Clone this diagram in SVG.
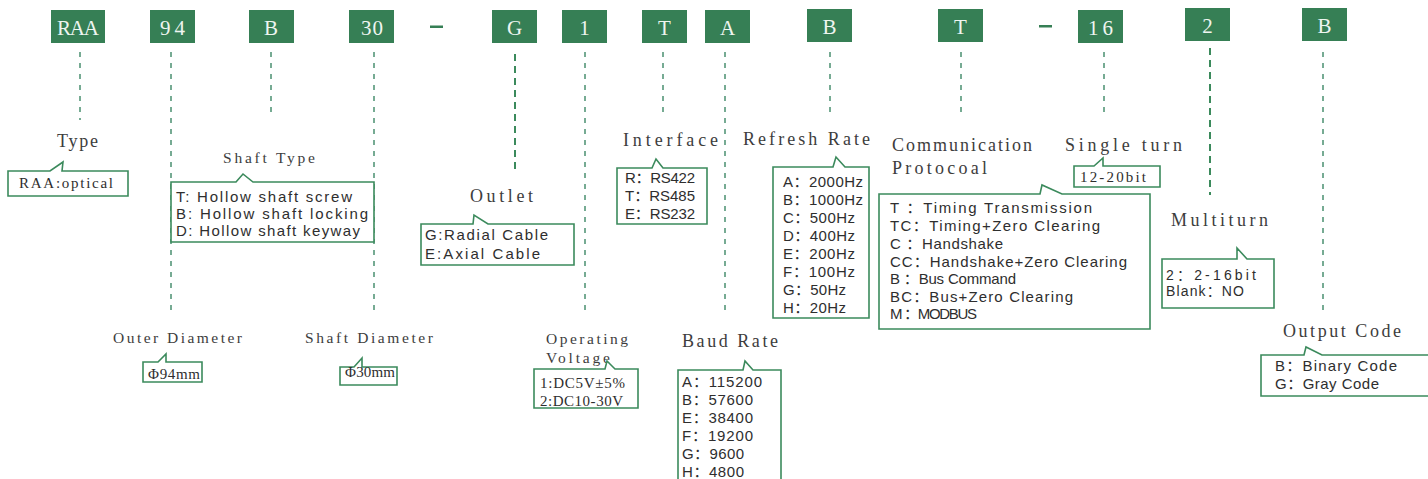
<svg xmlns="http://www.w3.org/2000/svg" width="1428" height="479" viewBox="0 0 1428 479">
<style>
.code{fill:#367f55}
.ct{font-family:"Liberation Serif",serif;font-size:21px;fill:#eef5f0;text-anchor:middle}
.lbl{font-family:"Liberation Serif",serif;font-size:18px;fill:#3d3d3d}
.lbs{font-family:"Liberation Serif",serif;font-size:15.5px;fill:#3d3d3d}
.bx{fill:#fff;stroke:#3b8a5c;stroke-width:1.6}
.st{font-family:"Liberation Sans","Noto Sans CJK SC",sans-serif;font-size:15px;fill:#2e2e2e}
.ss{font-family:"Liberation Serif","Noto Sans CJK SC",serif;font-size:15px;fill:#2e2e2e}
.dl{stroke:#4a9070;stroke-width:1.5;stroke-dasharray:5 6;fill:none}
.dk{stroke:#3b8a5c;stroke-width:2;stroke-dasharray:7 5;fill:none}
</style>
<rect width="1428" height="479" fill="#fff"/>
<g id="connectors">
<line class="dl" x1="80" y1="52" x2="80" y2="120"/>
<line class="dl" x1="171" y1="52" x2="171" y2="313"/>
<line class="dl" x1="271" y1="52" x2="271" y2="118"/>
<line class="dl" x1="374" y1="52" x2="374" y2="313"/>
<line class="dk" x1="515" y1="54" x2="515" y2="173"/>
<line class="dl" x1="585" y1="52" x2="585" y2="313"/>
<line class="dl" x1="663" y1="52" x2="663" y2="118"/>
<line class="dl" x1="725" y1="52" x2="725" y2="313"/>
<line class="dl" x1="830" y1="52" x2="830" y2="118"/>
<line class="dl" x1="961" y1="52" x2="961" y2="118"/>
<line class="dl" x1="1104" y1="52" x2="1104" y2="118"/>
<line class="dk" x1="1210" y1="48" x2="1210" y2="195"/>
<line class="dl" x1="1323" y1="52" x2="1323" y2="313"/>
</g>
<g id="codes">
<g id="c-raa"><rect class="code" x="51" y="10" width="54" height="33"/><text class="ct" x="78" y="35" textLength="42" lengthAdjust="spacing">RAA</text></g>
<g id="c-94"><rect class="code" x="150" y="10" width="45" height="33"/><text class="ct" x="172.5" y="35" textLength="25" lengthAdjust="spacing">94</text></g>
<g id="c-b1"><rect class="code" x="249" y="10" width="45" height="33"/><text class="ct" x="271" y="35">B</text></g>
<g id="c-30"><rect class="code" x="349" y="10" width="45" height="33"/><text class="ct" x="372" y="35" textLength="22" lengthAdjust="spacing">30</text></g>
<rect id="dash1" class="code" x="430" y="25.5" width="13" height="2.5"/>
<g id="c-g"><rect class="code" x="492" y="10" width="45" height="33"/><text class="ct" x="514.5" y="35">G</text></g>
<g id="c-1"><rect class="code" x="562" y="10" width="45" height="33"/><text class="ct" x="584.5" y="35">1</text></g>
<g id="c-t1"><rect class="code" x="642" y="10" width="45" height="33"/><text class="ct" x="664.5" y="35">T</text></g>
<g id="c-a"><rect class="code" x="705" y="10" width="45" height="33"/><text class="ct" x="727.5" y="35">A</text></g>
<g id="c-b2"><rect class="code" x="807" y="9" width="45" height="33"/><text class="ct" x="829.5" y="34">B</text></g>
<g id="c-t2"><rect class="code" x="938" y="9" width="45" height="33"/><text class="ct" x="960.5" y="34">T</text></g>
<rect id="dash2" class="code" x="1039" y="25" width="13" height="2.5"/>
<g id="c-16"><rect class="code" x="1078" y="10" width="45" height="33"/><text class="ct" x="1100.5" y="35" textLength="25" lengthAdjust="spacing">16</text></g>
<g id="c-2"><rect class="code" x="1185" y="8" width="45" height="33"/><text class="ct" x="1207.5" y="33">2</text></g>
<g id="c-b3"><rect class="code" x="1302" y="8" width="45" height="33"/><text class="ct" x="1324.5" y="33">B</text></g>
</g>
<g id="n-type">
<text class="lbl" x="57" y="147" textLength="41" lengthAdjust="spacing">Type</text>
<path class="bx" d="M8,171 L50,171 L63,162 L62,171 L128,171 L128,196 L8,196 Z"/>
<text class="ss" x="19" y="188" textLength="94" lengthAdjust="spacing">RAA:optical</text>
</g>
<g id="n-shaft-type">
<text class="lbs" x="223" y="163" textLength="92" lengthAdjust="spacing">Shaft Type</text>
<path class="bx" d="M171,182 L236,182 L243,174 L253,182 L374,182 L374,242 L171,242 Z"/>
<text class="st" x="176" y="202" textLength="176" lengthAdjust="spacing">T: Hollow shaft screw</text>
<text class="st" x="176" y="219" textLength="192" lengthAdjust="spacing">B: Hollow shaft locking</text>
<text class="st" x="176" y="236" textLength="184" lengthAdjust="spacing">D: Hollow shaft keyway</text>
</g>
<g id="n-outlet">
<text class="lbl" x="470" y="202" textLength="63" lengthAdjust="spacing">Outlet</text>
<path class="bx" d="M421,224 L473,224 L474,215 L488,224 L574,224 L574,265 L421,265 Z"/>
<text class="st" x="425" y="240" textLength="123" lengthAdjust="spacing">G:Radial Cable</text>
<text class="st" x="425" y="259" textLength="115" lengthAdjust="spacing">E:Axial Cable</text>
</g>
<g id="n-interface">
<text class="lbl" x="623" y="146" textLength="95" lengthAdjust="spacing">Interface</text>
<path class="bx" d="M617,168 L652,168 L656,159 L663,168 L707,168 L707,224 L617,224 Z"/>
<text class="st" x="625" y="183" textLength="70" lengthAdjust="spacing">R：RS422</text>
<text class="st" x="625" y="201" textLength="70" lengthAdjust="spacing">T：RS485</text>
<text class="st" x="625" y="219" textLength="70" lengthAdjust="spacing">E：RS232</text>
</g>
<g id="n-refresh">
<text class="lbl" x="743" y="145" textLength="127" lengthAdjust="spacing">Refresh Rate</text>
<path class="bx" d="M773,167 L833,167 L836,157 L845,167 L869,167 L869,318 L773,318 Z"/>
<text class="st" x="783" y="187" textLength="80" lengthAdjust="spacing">A：2000Hz</text>
<text class="st" x="783" y="205" textLength="80" lengthAdjust="spacing">B：1000Hz</text>
<text class="st" x="783" y="223" textLength="72" lengthAdjust="spacing">C：500Hz</text>
<text class="st" x="783" y="241" textLength="72" lengthAdjust="spacing">D：400Hz</text>
<text class="st" x="783" y="259" textLength="72" lengthAdjust="spacing">E：200Hz</text>
<text class="st" x="783" y="277" textLength="72" lengthAdjust="spacing">F：100Hz</text>
<text class="st" x="783" y="295" textLength="63" lengthAdjust="spacing">G：50Hz</text>
<text class="st" x="783" y="313" textLength="63" lengthAdjust="spacing">H：20Hz</text>
</g>
<g id="n-protocol">
<text class="lbl" x="892" y="151" textLength="140" lengthAdjust="spacing">Communication</text>
<text class="lbl" x="892" y="174" textLength="95" lengthAdjust="spacing">Protocoal</text>
<path class="bx" d="M879,194 L1040,194 L1042,185 L1062,194 L1150,194 L1150,329 L879,329 Z"/>
<text class="st" x="890" y="213" textLength="202" lengthAdjust="spacing">T  ：Timing Transmission</text>
<text class="st" x="890" y="231" textLength="210" lengthAdjust="spacing">TC：Timing+Zero Clearing</text>
<text class="st" x="890" y="249" textLength="113" lengthAdjust="spacing">C  ：Handshake</text>
<text class="st" x="890" y="267" textLength="237" lengthAdjust="spacing">CC：Handshake+Zero Clearing</text>
<text class="st" x="890" y="284" textLength="126" lengthAdjust="spacing">B ：Bus Command</text>
<text class="st" x="890" y="302" textLength="183" lengthAdjust="spacing">BC：Bus+Zero Clearing</text>
<text class="st" x="890" y="319" textLength="87" lengthAdjust="spacing">M  ：MODBUS</text>
</g>
<g id="n-single">
<text class="lbl" x="1065" y="151" textLength="117" lengthAdjust="spacing">Single turn</text>
<path class="bx" d="M1074,166 L1094,166 L1103,158 L1103,166 L1160,166 L1160,187 L1074,187 Z"/>
<text class="ss" x="1080" y="182" textLength="66" lengthAdjust="spacing">12-20bit</text>
</g>
<g id="n-multi">
<text class="lbl" x="1171" y="226" textLength="97" lengthAdjust="spacing">Multiturn</text>
<path class="bx" d="M1162,259 L1237,259 L1237,248 L1247,259 L1274,259 L1274,308 L1162,308 Z"/>
<text class="st" x="1166" y="280" style="font-size:14px" textLength="90" lengthAdjust="spacing">2：2-16bit</text>
<text class="st" x="1166" y="296" style="font-size:14px" textLength="78" lengthAdjust="spacing">Blank：NO</text>
</g>
<g id="n-output">
<text class="lbl" x="1283" y="337" textLength="118" lengthAdjust="spacing">Output Code</text>
<path class="bx" d="M1261,355 L1304,355 L1306,347 L1322,355 L1432,355 L1432,396 L1261,396 Z"/>
<text class="st" x="1275" y="371" textLength="122" lengthAdjust="spacing">B：Binary Code</text>
<text class="st" x="1275" y="389" textLength="104" lengthAdjust="spacing">G：Gray Code</text>
</g>
<g id="n-outer">
<text class="lbs" x="113" y="343" textLength="129" lengthAdjust="spacing">Outer Diameter</text>
<path class="bx" d="M143,362 L158,362 L166,354 L166,362 L202,362 L202,382 L143,382 Z"/>
<text class="ss" x="148" y="379" textLength="52" lengthAdjust="spacing">Φ94mm</text>
</g>
<g id="n-shaftd">
<text class="lbs" x="305" y="343" textLength="128" lengthAdjust="spacing">Shaft Diameter</text>
<path class="bx" d="M340,367 L354,367 L362,358 L362,367 L397,367 L397,385 L340,385 Z"/>
<text class="ss" x="345" y="377" textLength="50" lengthAdjust="spacing">Φ30mm</text>
</g>
<g id="n-voltage">
<text class="lbs" x="546" y="344" textLength="82" lengthAdjust="spacing">Operating</text>
<text class="lbs" x="546" y="363" textLength="64" lengthAdjust="spacing">Voltage</text>
<path class="bx" d="M534,369 L605,369 L607,361 L615,369 L638,369 L638,408 L534,408 Z"/>
<text class="ss" x="540" y="388" textLength="85" lengthAdjust="spacing">1:DC5V±5%</text>
<text class="ss" x="540" y="406" textLength="83" lengthAdjust="spacing">2:DC10-30V</text>
</g>
<g id="n-baud">
<text class="lbl" x="682" y="347" textLength="96" lengthAdjust="spacing">Baud Rate</text>
<path class="bx" d="M678,370 L743,370 L745,361 L753,370 L781,370 L781,490 L678,490 Z"/>
<text class="st" x="682" y="387" textLength="80" lengthAdjust="spacing">A：115200</text>
<text class="st" x="682" y="405" textLength="71" lengthAdjust="spacing">B：57600</text>
<text class="st" x="682" y="423" textLength="71" lengthAdjust="spacing">E：38400</text>
<text class="st" x="682" y="441" textLength="71" lengthAdjust="spacing">F：19200</text>
<text class="st" x="682" y="459" textLength="62" lengthAdjust="spacing">G：9600</text>
<text class="st" x="682" y="477" textLength="62" lengthAdjust="spacing">H：4800</text>
</g>
</svg>
